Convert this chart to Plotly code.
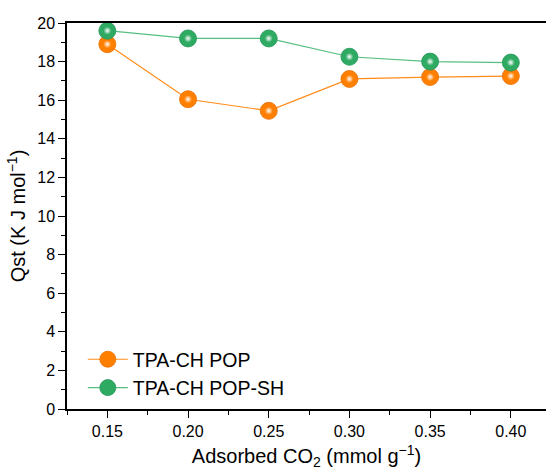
import plotly.graph_objects as go

x_vals = [0.15, 0.20, 0.25, 0.30, 0.35, 0.40]
pop = [18.9, 16.05, 15.45, 17.1, 17.2, 17.25]
pop_sh = [19.6, 19.2, 19.2, 18.25, 18.0, 17.95]
names = ["TPA-CH POP", "TPA-CH POP-SH"]
x_ticks = [0.15, 0.20, 0.25, 0.30, 0.35, 0.40]
y_ticks = list(range(0, 21, 2))

fig = go.Figure()
styles = [(pop, names[0], "#FF7F00", "#FF8C1A", "#E86F00"),
          (pop_sh, names[1], "#2EAA62", "#55BF80", "#23955A")]
for y, name, col, lcol, edge in styles:
    fig.add_trace(go.Scatter(
        x=x_vals, y=y, name=name, mode="lines+markers", legendgroup=name,
        line=dict(color=lcol, width=1.2),
        marker=dict(size=17, color=col, line=dict(width=0.8, color=edge)),
    ))
for y, name, col, lcol, edge in styles:
    fig.add_trace(go.Scatter(
        x=x_vals, y=y, name=name, mode="markers", legendgroup=name,
        showlegend=False, hoverinfo="skip",
        marker=dict(size=8, color=col,
                    gradient=dict(type="radial", color="#FFFFFF"),
                    line=dict(width=0)),
    ))

font = "Liberation Sans, Arial, sans-serif"
fig.update_layout(
    width=546, height=471,
    margin=dict(l=67, r=0, t=23, b=62),
    plot_bgcolor="white", paper_bgcolor="white",
    font=dict(family=font, size=16, color="#000"),
    showlegend=True,
    legend=dict(x=0.033, y=0.005, xanchor="left", yanchor="bottom",
                bgcolor="rgba(0,0,0,0)", font=dict(size=19.5, family=font),
                tracegroupgap=0, itemwidth=40),
    xaxis=dict(
        range=[0.125, 0.4218], tickvals=x_ticks,
        ticktext=[f"{v:.2f}" for v in x_ticks],
        showgrid=False, zeroline=False,
        showline=True, linecolor="#000", linewidth=1.5, mirror=True,
        ticks="outside", ticklen=7, tickwidth=1.2, tickcolor="#000",
        minor=dict(tickvals=[0.125, 0.175, 0.225, 0.275, 0.325, 0.375, 0.425],
                   ticks="outside", ticklen=4, tickwidth=1.2, tickcolor="#000"),
        title=dict(text="Adsorbed CO<sub>2</sub> (mmol g<sup>\u22121</sup>)",
                   font=dict(size=20), standoff=10),
        tickfont=dict(size=16),
    ),
    yaxis=dict(
        range=[0, 20], tickvals=y_ticks,
        showgrid=False, zeroline=False,
        showline=True, linecolor="#000", linewidth=1.5,
        ticks="outside", ticklen=7, tickwidth=1.2, tickcolor="#000",
        minor=dict(dtick=1, ticks="outside", ticklen=4, tickwidth=1.2, tickcolor="#000"),
        title=dict(text="Qst (K J mol<sup>\u22121</sup>)", font=dict(size=20), standoff=6),
        tickfont=dict(size=16),
    ),
)
fig.write_html("out.html")
